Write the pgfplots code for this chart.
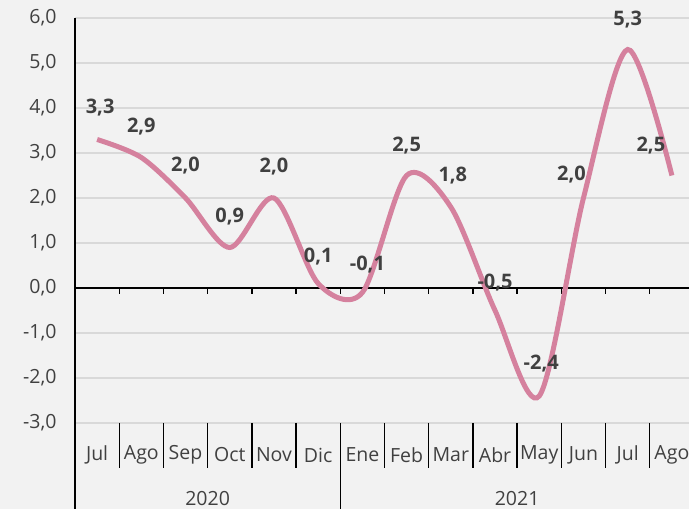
\documentclass[border=0pt]{standalone}
\usepackage{pgfplots}
\pgfplotsset{compat=1.18}
\usepackage{pgfplotstable}
\usepackage{fontspec}
\setmainfont{Open Sans}
\definecolor{bg}{HTML}{F2F2F2}
\definecolor{gridc}{HTML}{D9D9D9}
\definecolor{linec}{HTML}{D5819E}
\definecolor{txt}{HTML}{404040}

\pgfplotstableread{
x y dx dy
0 3.3 3 32
1 2.9 0 31
2 2.0 0 32
3 0.9 0 31
4 2.0 0 31
5 0.1 0 27
6 -0.1 5 28
7 2.5 0 30
8 1.8 2 31
9 -0.5 0 28
10 -2.4 2 32
11 2.0 -12 23
12 5.3 0 30
13 2.5 -21 30
}\datatable

\begin{document}
\begin{tikzpicture}
\useasboundingbox (0,0) rectangle (689pt,509pt);
\fill[bg] (0,0) rectangle (689pt,509pt);
\clip (0,0) rectangle (689pt,509pt);
\begin{axis}[
  at={(75pt,86pt)}, anchor=south west,
  width=619pt, height=405pt, scale only axis,
  xmin=-0.5, xmax=13.5, ymin=-3, ymax=6,
  ytick={-3,-2,...,6},
  xtick={0,...,13},
  xticklabels={Jul,Ago,Sep,Oct,Nov,Dic,Ene,Feb,Mar,Abr,May,Jun,Jul,Ago},
  ymajorgrids, grid style={gridc, line width=1.3pt},
  axis line style={draw=none},
  major tick length=0pt,
  clip=false,
  tick label style={font=\fontsize{19.5}{23}\selectfont, text=txt},
  xticklabel style={anchor=center, yshift=-32pt},
  yticklabel style={anchor=east, xshift=-15pt,
    /pgf/number format/.cd, fixed, fixed zerofill, precision=1, use comma, assume math mode=true},
]
\draw[black, line width=1.6pt] (axis cs:-0.5,0) -- (axis cs:13.5,0);
\pgfplotsinvokeforeach{0.5,1.5,2.5,3.5,4.5,5.5,6.5,7.5,8.5,9.5,10.5,11.5,12.5,13.5}{
  \draw[black, line width=1.4pt] (axis cs:#1,0) -- ++(0pt,-6pt);
}
\pgfplotsinvokeforeach{0.5,1.5,2.5,3.5,4.5,6.5,7.5,8.5,9.5,10.5,11.5,12.5,13.5}{
  \draw[black, line width=1.4pt] (axis cs:#1,-3) -- ++(0pt,-45pt);
}
\draw[black, line width=1.4pt] (axis cs:5.5,-3) -- ++(0pt,-100pt);
\draw[black, line width=1.8pt] (axis cs:-0.5,6) -- (axis cs:-0.5,-3) -- ++(0pt,-100pt);
\node[font=\fontsize{19.5}{23}\selectfont, text=txt] at (axis cs:2.5,-3) [yshift=-76pt] {2020};
\node[font=\fontsize{19.5}{23}\selectfont, text=txt] at (axis cs:9.5,-3) [yshift=-76pt] {2021};

\addplot[linec, line width=5pt, smooth, mark=none] table[x=x, y=y] {\datatable};
\addplot[draw=none, mark=none,
  nodes near coords={\pgfmathprintnumber[fixed, fixed zerofill, precision=1, use comma, assume math mode=true]{\pgfplotspointmeta}},
  point meta=explicit,
  visualization depends on={\thisrow{dx}\as\dx},
  visualization depends on={\thisrow{dy}\as\dy},
  every node near coord/.append style={anchor=center, xshift=\dx pt, yshift=\dy pt,
    font=\fontsize{20}{24}\selectfont\bfseries, text=txt},
] table[x=x, y=y, meta=y] {\datatable};
\end{axis}
\end{tikzpicture}
\end{document}
